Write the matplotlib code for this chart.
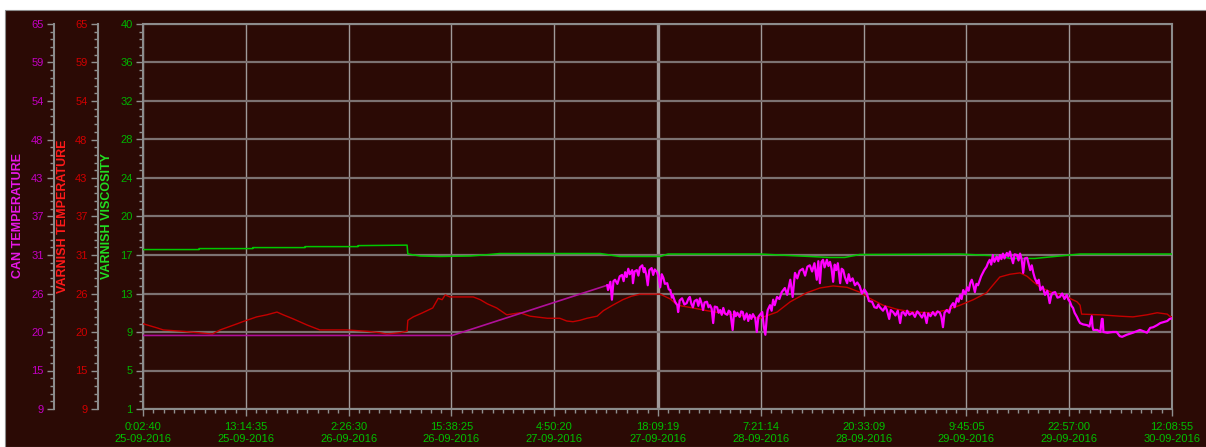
import matplotlib.pyplot as plt
import numpy as np
import pandas as pd
from matplotlib.patches import Rectangle
from matplotlib.ticker import AutoMinorLocator, FixedLocator

plt.rcParams['font.family'] = ['Liberation Sans', 'DejaVu Sans']

BG = '#2b0a05'

# time axis labels (time / date)
tick_times = ['0:02:40', '13:14:35', '2:26:30', '15:38:25', '4:50:20', '18:09:19',
              '7:21:14', '20:33:09', '9:45:05', '22:57:00', '12:08:55']
tick_dates = ['25-09-2016', '25-09-2016', '26-09-2016', '26-09-2016', '27-09-2016',
              '27-09-2016', '28-09-2016', '28-09-2016', '29-09-2016', '29-09-2016',
              '30-09-2016']

visc_ticks = ['1', '5', '9', '13', '17', '20', '24', '28', '32', '36', '40']
temp_ticks = ['9', '15', '20', '26', '31', '37', '43', '48', '54', '59', '65']

# varnish viscosity (hours since first sample)
visc_hours = [0, 7.2, 7.2, 14.1, 14.1, 20.8, 20.8, 27.6, 27.6, 33.9, 34.0, 35.6, 38.1,
              42.0, 44.5, 45.8, 58.7, 61.2, 66.4, 67.4, 79.2, 84.3, 88.2, 90.1, 92.0,
              104.9, 110.0, 111.3, 114.5, 117.7, 120.3, 132.1]
visc = [17.15, 17.15, 17.25, 17.25, 17.35, 17.35, 17.45, 17.45, 17.55, 17.6, 16.7, 16.5,
        16.45, 16.5, 16.65, 16.75, 16.75, 16.45, 16.45, 16.7, 16.7, 16.5, 16.35, 16.35,
        16.65, 16.7, 16.5, 16.25, 16.25, 16.5, 16.7, 16.7]

# varnish temperature
varn_hours = [0, 1.8, 2.6, 5.1, 6.0, 7.1, 8.9, 9.9, 12.1, 12.8, 14.6, 15.9, 17.2, 18.0,
              19.3, 21.1, 22.7, 26.2, 28.8, 30.4, 31.3, 33.0, 33.4, 33.9, 34.0, 34.7,
              35.9, 37.2, 37.9, 38.4, 38.8, 39.4, 40.7, 42.4, 43.3, 44.2, 45.4, 46.7,
              48.4, 49.7, 51.9, 53.5, 54.4, 55.2, 56.1, 57.0, 58.3, 59.1, 60.3, 61.6,
              62.7, 63.8, 65.0, 66.4, 67.7, 68.6, 70.6, 72.4, 74.1, 75.8, 77.5, 79.2,
              81.4, 83.1, 85.2, 86.9, 88.6, 90.4, 92.0, 93.3, 95.0, 96.8, 98.8, 101.4,
              103.2, 104.9, 106.6, 108.3, 109.1, 110.0, 111.3, 112.6, 113.5, 114.3,
              115.2, 116.8, 118.6, 119.9, 120.3, 120.5, 122.9, 125.4, 127.1, 128.9,
              130.2, 131.5, 131.8, 132.1]
varn_temp = [21.4, 20.8, 20.5, 20.3, 20.2, 20.1, 19.9, 20.5, 21.4, 21.7, 22.4, 22.7,
             23.1, 22.7, 22.1, 21.2, 20.5, 20.5, 20.3, 20.1, 19.9, 20.1, 20.2, 20.3,
             21.9, 22.4, 23.0, 23.7, 25.1, 24.9, 25.6, 25.3, 25.3, 25.3, 24.9, 24.3,
             23.7, 22.7, 23.0, 22.5, 22.2, 22.2, 21.8, 21.7, 21.9, 22.2, 22.5, 23.3,
             24.1, 24.9, 25.4, 25.7, 25.7, 25.7, 25.0, 24.1, 23.7, 23.3, 23.0, 22.7,
             22.5, 22.2, 23.1, 24.6, 25.9, 26.6, 26.9, 26.7, 26.0, 25.1, 24.1, 23.5,
             23.1, 23.0, 23.4, 24.1, 24.9, 25.9, 27.0, 28.2, 28.6, 28.8, 28.3, 27.5,
             26.7, 25.9, 25.3, 24.6, 24.1, 22.8, 22.7, 22.5, 22.4, 22.7, 23.0, 22.8,
             22.5, 22.4]

# can temperature: bridge across the logging gap, then logged samples
can_gap = [(0, 19.7), (39.7, 19.7), (59.6, 27.0)]
can_log = [
    (59.6, 27.0), (59.7, 26.3), (60.0, 27.5), (60.2, 24.9), (60.4, 27.6), (60.6, 27.8),
    (60.9, 27.2), (61.2, 28.3), (61.5, 28.5), (61.7, 27.6), (61.9, 28.9), (62.1, 28.2),
    (62.3, 29.4), (62.5, 28.6), (62.8, 29.2), (62.9, 27.3), (63.1, 29.0), (63.4, 29.2),
    (63.6, 28.4), (63.8, 29.6), (64.1, 29.9), (64.3, 28.9), (64.4, 29.5), (64.6, 28.6),
    (64.8, 27.0), (65.0, 29.2), (65.3, 29.5), (65.5, 28.5), (65.7, 29.3), (66.0, 28.9),
    (66.2, 28.2), (66.4, 26.7), (66.6, 28.6), (66.8, 28.1), (67.0, 27.2), (67.3, 27.3),
    (67.5, 26.4), (67.7, 26.3), (67.9, 25.2), (68.0, 25.6), (68.3, 24.6), (68.6, 24.1),
    (68.7, 23.1), (68.9, 24.8), (69.2, 25.1), (69.5, 24.2), (69.8, 24.4), (70.0, 25.0),
    (70.2, 25.3), (70.4, 24.3), (70.6, 23.8), (70.8, 24.7), (71.1, 24.9), (71.3, 24.0),
    (71.5, 25.1), (71.7, 24.4), (71.9, 23.4), (72.1, 24.5), (72.4, 24.6), (72.6, 23.8),
    (72.8, 24.1), (73.0, 23.6), (73.2, 21.5), (73.4, 23.9), (73.7, 23.8), (73.9, 23.0),
    (74.1, 23.4), (74.3, 22.7), (74.5, 23.7), (74.7, 22.9), (75.0, 22.7), (75.2, 23.3),
    (75.4, 23.1), (75.7, 20.5), (75.9, 23.2), (76.1, 22.5), (76.3, 23.0), (76.6, 22.4),
    (76.8, 23.2), (77.0, 23.1), (77.2, 22.0), (77.5, 22.9), (77.7, 21.8), (77.9, 22.7),
    (78.1, 22.1), (78.3, 22.8), (78.6, 22.2), (78.8, 20.2), (79.0, 22.4), (79.2, 22.7),
    (79.5, 23.1), (79.7, 21.0), (79.9, 19.8), (80.1, 22.6), (80.2, 23.4), (80.5, 24.1),
    (80.7, 23.3), (80.9, 24.9), (81.1, 24.1), (81.4, 25.3), (81.7, 25.0), (82.0, 26.0),
    (82.4, 26.6), (82.7, 25.6), (83.1, 27.8), (83.4, 25.3), (83.7, 28.8), (84.0, 28.0),
    (84.3, 29.1), (84.7, 29.4), (85.0, 28.4), (85.3, 29.7), (85.6, 29.9), (85.9, 29.0),
    (86.2, 30.2), (86.5, 27.8), (86.7, 30.5), (86.9, 27.3), (87.1, 30.4), (87.3, 30.7),
    (87.5, 29.6), (87.8, 30.7), (88.0, 29.8), (88.2, 30.4), (88.4, 29.4), (88.6, 27.5),
    (88.8, 30.0), (89.0, 29.2), (89.2, 30.2), (89.5, 27.3), (89.7, 29.4), (89.9, 29.2),
    (90.1, 28.2), (90.4, 27.3), (90.6, 28.6), (90.8, 27.6), (91.1, 28.0), (91.4, 27.0),
    (91.7, 27.4), (92.0, 26.9), (92.3, 25.8), (92.6, 26.4), (92.9, 25.9), (93.2, 24.7),
    (93.6, 24.6), (93.9, 23.8), (94.2, 23.7), (94.4, 24.2), (94.6, 23.8), (95.0, 23.3),
    (95.3, 23.9), (95.5, 23.4), (95.8, 22.1), (96.0, 23.4), (96.3, 23.1), (96.6, 22.6),
    (96.9, 23.3), (97.2, 21.5), (97.4, 23.0), (97.6, 23.1), (97.9, 22.6), (98.1, 23.3),
    (98.4, 22.7), (98.8, 23.0), (99.1, 22.4), (99.4, 23.2), (99.7, 22.8), (100.0, 22.3),
    (100.3, 23.0), (100.6, 21.5), (100.8, 22.9), (101.1, 22.5), (101.4, 23.1),
    (101.7, 22.6), (102.0, 23.2), (102.3, 23.0), (102.5, 22.4), (102.7, 20.9),
    (102.9, 23.0), (103.2, 23.4), (103.5, 23.0), (103.7, 23.9), (104.0, 24.4),
    (104.2, 23.8), (104.5, 25.1), (104.7, 24.6), (104.9, 25.6), (105.1, 25.0),
    (105.3, 26.3), (105.6, 25.7), (105.8, 26.7), (106.0, 26.2), (106.2, 27.3),
    (106.4, 27.8), (106.6, 27.0), (106.8, 26.0), (107.0, 27.2), (107.2, 27.0),
    (107.6, 28.3), (108.0, 29.2), (108.3, 29.7), (108.5, 30.3), (108.7, 30.7),
    (108.9, 30.0), (109.1, 31.4), (109.3, 30.4), (109.6, 31.2), (109.8, 30.5),
    (110.0, 31.4), (110.2, 30.8), (110.4, 31.6), (110.6, 30.9), (110.9, 31.7),
    (111.1, 31.2), (111.3, 31.9), (111.5, 31.0), (111.7, 30.2), (111.9, 31.5),
    (112.2, 31.4), (112.4, 30.6), (112.6, 31.6), (112.8, 30.8), (113.0, 28.8),
    (113.2, 30.9), (113.5, 31.0), (113.7, 30.1), (113.9, 29.2), (114.1, 29.9),
    (114.3, 28.8), (114.5, 28.0), (114.8, 27.3), (115.0, 27.8), (115.2, 26.3),
    (115.5, 26.8), (115.8, 25.6), (116.1, 26.2), (116.4, 24.4), (116.6, 25.5),
    (116.8, 25.9), (117.1, 26.0), (117.4, 25.2), (117.7, 25.3), (118.0, 25.8),
    (118.3, 25.0), (118.6, 25.6), (118.8, 24.9), (119.0, 24.6), (119.2, 24.0),
    (119.4, 23.7), (119.6, 23.0), (119.9, 22.4), (120.1, 21.9), (120.3, 21.5),
    (120.7, 21.3), (121.2, 21.2), (121.5, 21.0), (121.8, 22.5), (121.9, 21.0),
    (122.0, 20.5), (122.5, 20.5), (122.9, 20.2), (123.1, 22.1), (123.2, 22.1),
    (123.3, 20.2), (123.8, 20.1), (124.5, 20.2), (125.0, 20.2), (125.4, 19.6),
    (125.7, 19.5), (126.3, 19.8), (127.1, 20.1), (128.0, 20.5), (128.9, 20.1),
    (129.3, 20.8), (129.7, 20.9), (130.2, 21.2), (130.6, 21.5), (131.5, 21.8),
    (131.8, 22.1), (132.1, 22.2),
]

start = pd.Timestamp('2016-09-25 00:02:40')
tick_stamps = pd.to_datetime([d + ' ' + t for d, t in zip(tick_dates, tick_times)],
                             format='%d-%m-%Y %H:%M:%S')
tick_hours = np.asarray((tick_stamps - start) / pd.Timedelta(hours=1), dtype=float)

fig = plt.figure(figsize=(12.06, 4.47), dpi=100, facecolor='white')
fig.patches.append(Rectangle((5 / 1206, 0), 1, 437 / 447, transform=fig.transFigure,
                             facecolor=BG, edgecolor='#8c8c8c', lw=0.8, zorder=-10))

ax = fig.add_axes([143 / 1206, 38 / 447, 1029 / 1206, 385 / 447])
ax.set_facecolor(BG)
ax.set_xlim(tick_hours[0], tick_hours[-1])
ax.set_ylim(1, 40)

# x ticks: labelled majors, nine minors in each interval
minor_x = []
for a, b in zip(tick_hours[:-1], tick_hours[1:]):
    minor_x.extend(np.linspace(a, b, 11)[1:-1])
ax.xaxis.set_major_locator(FixedLocator(tick_hours))
ax.xaxis.set_minor_locator(FixedLocator(minor_x))
ax.set_xticklabels([t + '\n' + d for t, d in zip(tick_times, tick_dates)],
                   color='#00c000', fontsize=8, linespacing=1.25)

ax.set_yticks(np.linspace(1, 40, 11))
ax.set_yticklabels(visc_ticks, color='#00b400', fontsize=8)
ax.yaxis.set_minor_locator(AutoMinorLocator(5))

ax.tick_params(which='major', length=5, width=1, color='#909090', pad=2.5)
ax.tick_params(which='minor', length=3, width=1, color='#909090')
ax.tick_params(axis='x', which='major', pad=4)
ax.xaxis.grid(True, color='#a09a9a', lw=1)
ax.yaxis.grid(True, color='#7c7272', lw=1.6)
ax.set_axisbelow(True)
ax.get_xgridlines()[5].set_linewidth(2.4)
for sp in ax.spines.values():
    sp.set_color('#8c8c8c')
    sp.set_linewidth(1.5)

ax.plot(visc_hours, visc, color='#00c800', lw=1.1, zorder=3)


def temp_axis(offset, tick_color):
    tw = ax.twinx()
    tw.set_ylim(9, 65)
    tw.yaxis.set_ticks_position('left')
    tw.spines['left'].set_position(('axes', offset))
    tw.spines['left'].set_visible(True)
    tw.spines['left'].set_color('#8c8c8c')
    tw.spines['left'].set_linewidth(1.5)
    for side in ('right', 'top', 'bottom'):
        tw.spines[side].set_visible(False)
    tw.set_yticks(np.linspace(9, 65, 11))
    tw.set_yticklabels(temp_ticks, color=tick_color, fontsize=8)
    tw.yaxis.set_minor_locator(AutoMinorLocator(5))
    tw.tick_params(which='major', length=5, width=1, color='#909090', pad=2.5)
    tw.tick_params(which='minor', length=3, width=1, color='#909090')
    return tw


ax_varn = temp_axis(-45 / 1029, '#d00000')
ax_can = temp_axis(-89 / 1029, '#c400c4')

ax_varn.plot(varn_hours, varn_temp, color='#c40000', lw=1.0)
gap_h, gap_t = zip(*can_gap)
log_h, log_t = zip(*can_log)
ax_can.plot(gap_h, gap_t, color='#b0109a', lw=1.2)
ax_can.plot(log_h, log_t, color='#ff00ff', lw=1.6)

label_y = (447 - 216) / 447
fig.text(18 / 1206, label_y, 'CAN TEMPERATURE', rotation=90, ha='center', va='center',
         color='#e818e8', fontsize=9, fontweight='bold')
fig.text(63 / 1206, label_y, 'VARNISH TEMPERATURE', rotation=90, ha='center', va='center',
         color='#ff1a1a', fontsize=9, fontweight='bold')
fig.text(107 / 1206, label_y, 'VARNISH VISCOSITY', rotation=90, ha='center', va='center',
         color='#22dd22', fontsize=9, fontweight='bold')

fig.savefig('out.png', dpi=100, facecolor='white')
